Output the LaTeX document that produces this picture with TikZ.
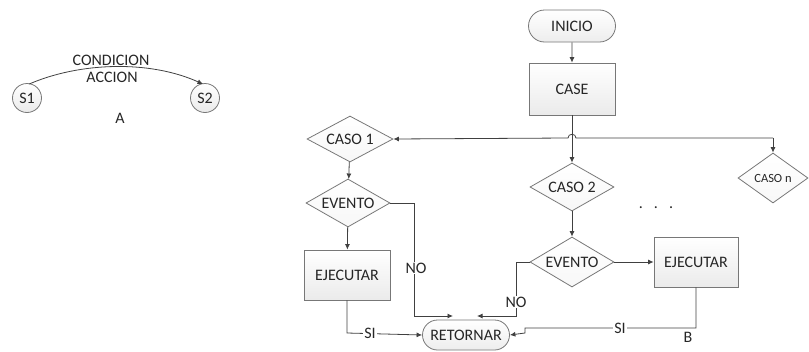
\documentclass[tikz,border=0pt]{standalone}
\usepackage{fontspec}
\setmainfont{Carlito}
\usetikzlibrary{shapes.geometric,shapes.misc,arrows.meta,calc}
\definecolor{lc}{HTML}{404040}
\definecolor{bc}{HTML}{777777}
\definecolor{tc}{HTML}{262626}
\begin{document}
\begin{tikzpicture}[x=1pt,y=-1pt,
  line/.style={draw=lc, line width=0.8pt},
  arr/.style={line, -{Latex[length=5.5pt,width=5pt]}},
  shp/.style={draw=bc, line width=0.8pt, text=tc, inner sep=0pt, font=\fontsize{16}{19}\selectfont},
  rectbox/.style={shp, rectangle, top color=white, bottom color=gray!16, minimum width=86pt, minimum height=#1},
  dia/.style={shp, diamond, aspect=1.8, top color=white, bottom color=gray!6, minimum width=#1, minimum height=48pt},
  term/.style={shp, rounded rectangle, top color=white, bottom color=gray!14, minimum width=87pt, minimum height=#1},
  state/.style={shp, circle, top color=white, bottom color=gray!16, minimum size=29pt},
  lbl/.style={text=tc, inner sep=1pt, font=\fontsize{16}{19}\selectfont},
  onl/.style={lbl, fill=white}
]
\useasboundingbox (0,0) rectangle (809,351);

% ---- left part ----
\node[state] (s1) at (27,98) {S1};
\node[state] (s2) at (205,98) {S2};
\draw[arr] ($(s1.north)+(2,1)$) .. controls (80,62) and (150,60) .. ($(s2.north)+(-2,1)$);
\node[lbl] (cond) at (111,60) {CONDICION};
\node[lbl] (acc) at (112,77) {ACCION};
\node[lbl] (la) at (120,118) {A};

% ---- right part ----
\node[term=32pt] (inicio) at (572,26) {INICIO};
\node[rectbox=52pt] (case) at (572,89) {CASE};
\node[dia=86pt, minimum height=46pt] (caso1) at (350,139) {CASO 1};
\node[dia=84pt] (ev1) at (348,203) {EVENTO};
\node[rectbox=50pt] (ej1) at (347,275) {EJECUTAR};
\node[dia=84pt] (caso2) at (572,187) {CASO 2};
\node[dia=84pt, minimum height=50pt] (ev2) at (572,262) {EVENTO};
\node[rectbox=50pt, minimum width=84pt] (ej2) at (696,262) {EJECUTAR};
\node[dia=70pt, minimum height=50pt, font=\fontsize{12.5}{15}\selectfont] (cason) at (773,178) {CASO n};
\node[term=30pt] (ret) at (466,335) {RETORNAR};

\coordinate (hc) at (773,138);
\coordinate (hopR) at (576,138);
\coordinate (hopL) at (568,138);

\draw[arr] (inicio) -- (case);
\draw[arr] (case) -- (caso2);
\draw[arr] (hc) -- (hopR) .. controls (576,133) and (568,133) .. (hopL) -- (caso1.east);
\draw[arr] (hc) -- (cason.north);
\draw[arr] (caso1) -- (ev1);
\draw[arr] (ev1) -- (ej1);
\draw[arr] (caso2) -- (ev2);
\draw[arr] (ev2) -- (ej2);

\coordinate (n1a) at (414,203);
\coordinate (n1b) at (414,316);
\coordinate (n1t) at (453,316);
\draw[arr] (ev1.east) -- (n1a) -- (n1b) -- (n1t);
\node[onl] (no1) at (416,268) {NO};

\coordinate (n2a) at (516,262);
\coordinate (n2b) at (516,316);
\coordinate (n2t) at (477,316);
\draw[arr] (ev2.west) -- (n2a) -- (n2b) -- (n2t);
\node[onl] (no2) at (516,302) {NO};

\coordinate (s1a) at (347,333);
\draw[arr] (ej1.south) -- (s1a) -- (ret.west);
\node[onl] (si1) at (370,333) {SI};

\coordinate (s2a) at (696,328);
\coordinate (s2b) at (525,328);
\coordinate (s2c) at (525,333);
\draw[arr] (ej2.south) -- (s2a) -- (s2b) -- (s2c) -- (ret.east);
\node[onl] (si2) at (620,328) {SI};
\node[lbl] (lb) at (688,337) {B};

\node[lbl] (dots) at (656,208) {.\hspace{11pt}.\hspace{11pt}.};
\end{tikzpicture}
\end{document}
